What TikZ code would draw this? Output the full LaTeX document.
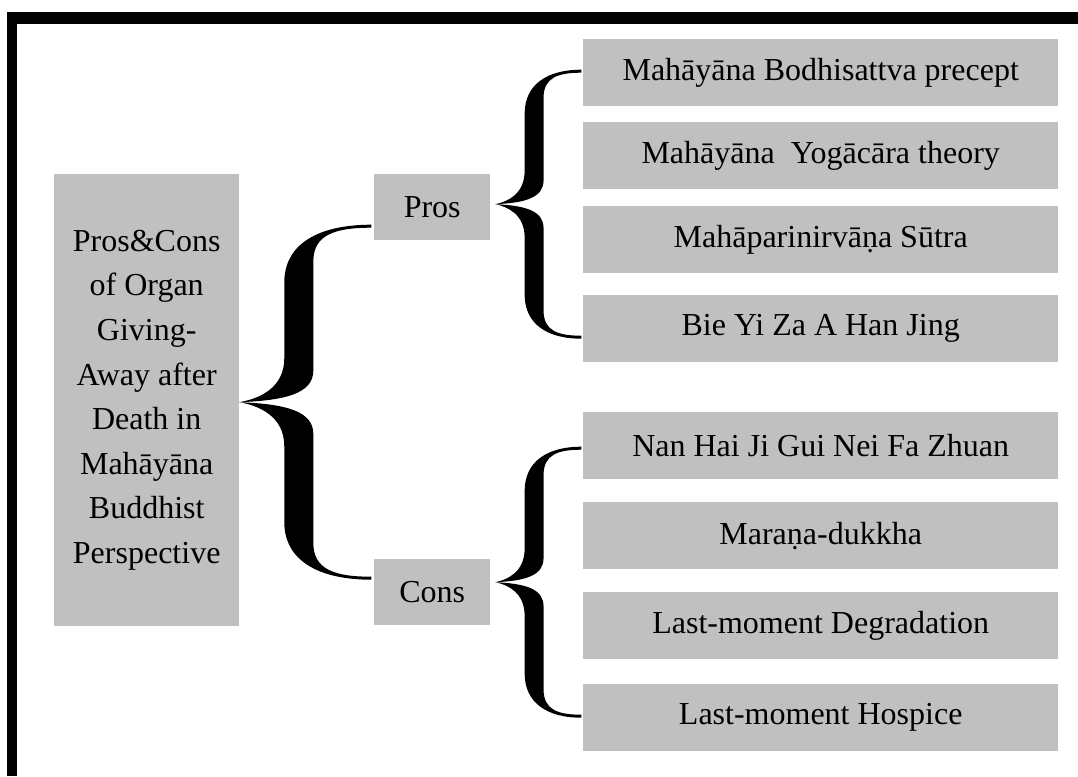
\documentclass[tikz,border=0pt]{standalone}
\usepackage{fontspec}
\setmainfont{Liberation Serif}
\usetikzlibrary{calc}
\newlength{\du}
\setlength{\du}{1pt}
\definecolor{boxgrey}{rgb}{0.752941, 0.752941, 0.752941}
\tikzset{
  greybox/.style={fill=boxgrey, inner sep=0pt, anchor=north west, align=center,
    font=\fontsize{32}{44.6}\selectfont},
  itembox/.style={greybox, minimum width=475\du, minimum height=67\du},
  pics/curlybrace/.style 2 args={code={
    \foreach \sgn in {1,-1}{
      \fill[yscale=\sgn] ({#1*\du},{-#2*\du-1.5\du})
        .. controls ({0.6*#1*\du},{-#2*\du-1.5\du}) and ({0.34*#1*\du},{-0.9*#2*\du}) .. ({0.34*#1*\du},{-0.68*#2*\du})
        -- ({0.34*#1*\du},{-0.25*#2*\du})
        .. controls ({0.34*#1*\du},{-0.08*#2*\du}) and ({0.15*#1*\du},{-0.02*#2*\du}) .. (0,0)
        .. controls ({0.35*#1*\du},{-0.01*#2*\du}) and ({0.56*#1*\du},{-0.05*#2*\du}) .. ({0.56*#1*\du},{-0.18*#2*\du})
        -- ({0.56*#1*\du},{-0.8*#2*\du})
        .. controls ({0.56*#1*\du},{-0.95*#2*\du}) and ({0.72*#1*\du},{-#2*\du+1.5\du}) .. ({#1*\du},{-#2*\du+1.5\du})
        -- cycle;
    }
  }}
}

\begin{document}
\begin{tikzpicture}
\pgftransformyscale{-1.000000}
\useasboundingbox (0\du,0\du) rectangle (1078\du,776\du);
% frame
\fill[black] (7\du,12\du) rectangle (17\du,776\du);
\fill[black] (7\du,12\du) rectangle (1078\du,24\du);
% topic
\node[greybox, minimum width=185\du, minimum height=452\du] (topic) at (54\du,174\du)
  {Pros\&Cons\\of Organ\\Giving-\\Away after\\Death in\\Mahāyāna\\Buddhist\\Perspective};
\node[greybox, minimum width=116\du, minimum height=66\du] (pros) at (374\du,174\du) {Pros};
\node[greybox, minimum width=116\du, minimum height=66\du] (cons) at (374\du,559\du) {Cons};
% pros items
\node[itembox] (precept) at (583\du,39\du) {Mahāyāna Bodhisattva precept};
\node[itembox] (yogacara) at (583\du,122\du) {Mahāyāna\ \ Yogācāra theory};
\node[itembox] (sutra) at (583\du,206\du) {Mahāparinirvāṇa Sūtra};
\node[itembox] (biejing) at (583\du,295\du) {Bie Yi Za A Han Jing};
% cons items
\node[itembox] (nanhai) at (583\du,412\du) {Nan Hai Ji Gui Nei Fa Zhuan};
\node[itembox] (marana) at (583\du,502\du) {Maraṇa-dukkha};
\node[itembox] (degrade) at (583\du,592\du) {Last-moment Degradation};
\node[itembox] (hospice) at (583\du,684\du) {Last-moment Hospice};
% braces
\pic at ($(topic.east)+(0\du,2\du)$) {curlybrace={132}{176}};
\pic at ($(pros.east)+(5\du,-3\du)$) {curlybrace={86}{133}};
\pic at ($(cons.east)+(5\du,-10\du)$) {curlybrace={86}{134}};
\end{tikzpicture}
\end{document}
